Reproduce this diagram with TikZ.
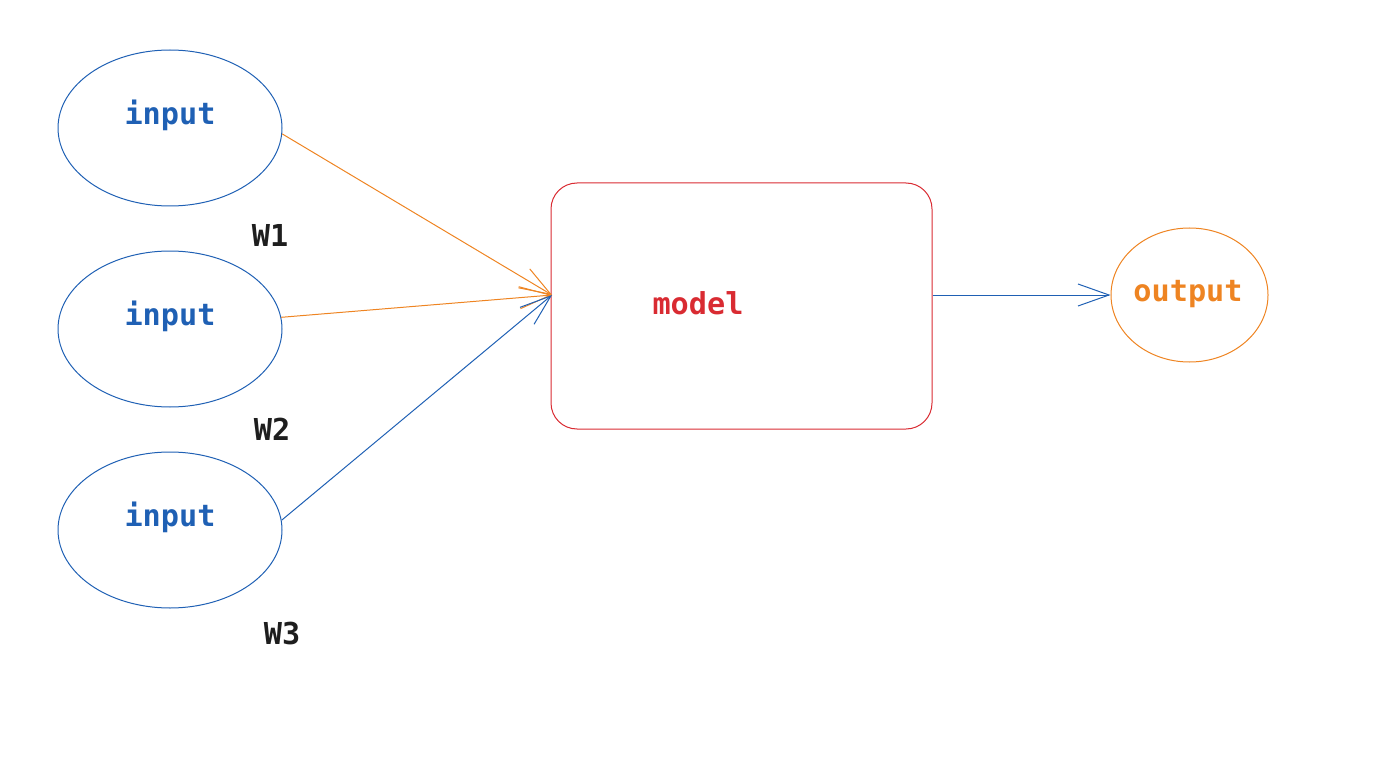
\documentclass[tikz,border=0pt]{standalone}
\usepackage{fontspec}
\setmonofont{DejaVu Sans Mono}
\usetikzlibrary{arrows.meta,shapes.geometric}
\definecolor{inblue}{HTML}{1F60B4}
\definecolor{outorange}{HTML}{EE8422}
\definecolor{boxred}{HTML}{D92B32}
\definecolor{wblack}{HTML}{1E1E1E}
\tikzset{
  inellipse/.style={ellipse, draw=inblue, line width=1pt, minimum width=224pt, minimum height=156pt, inner sep=0pt},
  outellipse/.style={ellipse, draw=outorange, line width=1pt, minimum width=157pt, minimum height=134pt, inner sep=0pt},
  modelbox/.style={rectangle, rounded corners=26pt, draw=boxred, line width=1pt, minimum width=381pt, minimum height=246pt, inner sep=0pt},
  lbl/.style={font=\ttfamily\bfseries\fontsize{30.2}{33}\selectfont, inner sep=0pt},
  wlbl/.style={lbl, text=wblack},
  barb/.style={-{Straight Barb[length=31pt,width=22pt,line width=1pt]}, line width=1pt}
}
\begin{document}
\begin{tikzpicture}[x=1pt,y=-1pt]
  \useasboundingbox (0,0) rectangle (1376,762);
  % input neurons
  \node[inellipse] (in1) at (170,128) {};
  \node[inellipse] (in2) at (170,329) {};
  \node[inellipse] (in3) at (170,530) {};
  \node[lbl, text=inblue] (t1) at (170,115) {input};
  \node[lbl, text=inblue] (t2) at (170,316) {input};
  \node[lbl, text=inblue] (t3) at (170,517) {input};
  % weights
  \node[wlbl] (w1) at (270,235.5) {W1};
  \node[wlbl] (w2) at (272,429.5) {W2};
  \node[wlbl] (w3) at (282,633.5) {W3};
  % model and output
  \node[modelbox] (model) at (741.5,306) {};
  \node[lbl, text=boxred] (tm) at (698,303) {model};
  \node[outellipse] (out) at (1189.5,295) {};
  \node[lbl, text=outorange] (to) at (1188,294) {output};
  % connectors
  \coordinate (tip) at (552,295);
  \draw[barb, outorange] (in1.-3) -- (tip);
  \draw[barb, outorange] (in2.6) -- (tip);
  \draw[barb, inblue] (in3.5.6) -- (tip);
  \draw[barb, inblue] (model.east |- tip) -- (out.west);
\end{tikzpicture}
\end{document}
